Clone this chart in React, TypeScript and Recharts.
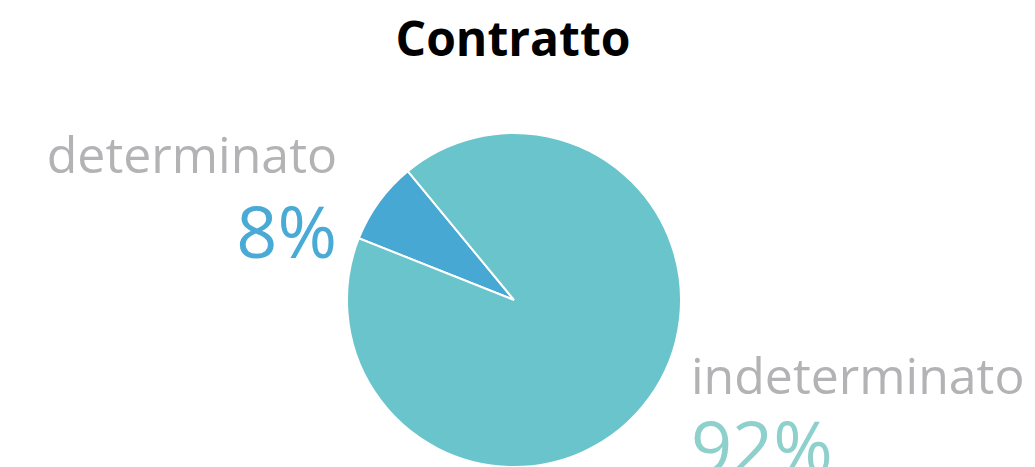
import { PieChart, Pie, Cell } from 'recharts'

const categories = ['determinato', 'indeterminato']
const shares = [8, 92]
const sliceColors = ['#47A8D3', '#69C4CC']
const pctColors = ['#4AAAD6', '#8ED0CC']

const data = categories.map((name, i) => ({ name, value: shares[i] }))

const FONT = '"Open Sans", "Noto Sans", sans-serif'
const RAD = Math.PI / 180

// eslint-disable-next-line @typescript-eslint/no-explicit-any
function renderLabel(props: any) {
    const { cx, cy, midAngle, outerRadius, index, name, value } = props
    const r = outerRadius + 52
    const x = cx + r * Math.cos(-midAngle * RAD)
    const y = cy + r * Math.sin(-midAngle * RAD)
    const left = x < cx
    const upper = y < cy
    const base = upper ? y + 2 : y - 35
    const gap = upper ? 85 : 79
    return (
        <g>
            <text x={x} y={base} textAnchor={left ? 'end' : 'start'} fill="#B3B3B5"
                fontFamily={FONT} fontSize={50}>{name}</text>
            <text x={x} y={base + gap} textAnchor={left ? 'end' : 'start'} fill={pctColors[index]}
                fontFamily={FONT} fontSize={72}>{`${value}%`}</text>
        </g>
    )
}

export default function App() {
    return (
        <div style={{ position: 'absolute', left: 0, top: 0, width: 1035, height: 467, background: '#fff', overflow: 'hidden' }}>
            <div style={{
                position: 'absolute', left: 0, top: 6, width: 1026, textAlign: 'center',
                fontFamily: FONT, fontWeight: 700, fontSize: 48, lineHeight: '64px', color: '#000',
            }}>
                Contratto
            </div>
            <PieChart width={1035} height={467} margin={{ top: 0, right: 0, bottom: 0, left: 0 }}
                style={{ position: 'absolute', left: 0, top: 0 }}>
                <Pie data={data} dataKey="value" nameKey="name" cx={514} cy={300} outerRadius={167}
                    startAngle={129.5} endAngle={489.5} stroke="#fff" strokeWidth={2}
                    label={renderLabel} labelLine={false} isAnimationActive={false}>
                    {data.map((d, i) => <Cell key={d.name} fill={sliceColors[i]} />)}
                </Pie>
            </PieChart>
        </div>
    )
}
